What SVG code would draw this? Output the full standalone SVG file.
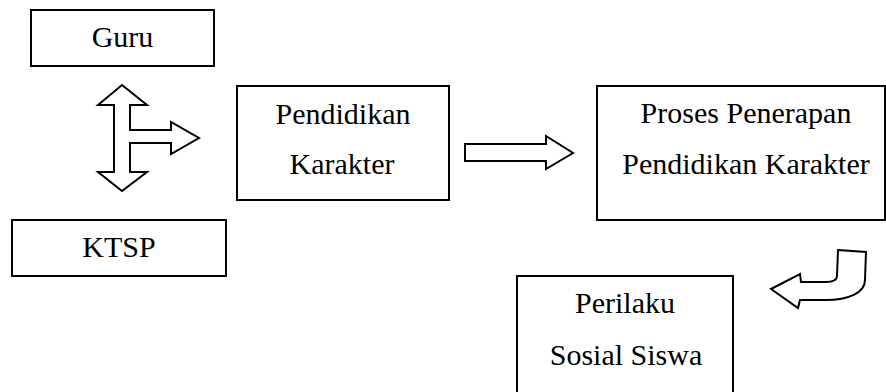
<svg xmlns="http://www.w3.org/2000/svg" width="886" height="392" viewBox="0 0 886 392">
<style>
.box{fill:#fff;stroke:#000;stroke-width:2}
.arr{fill:#fff;stroke:#000;stroke-width:2;stroke-linejoin:miter}
text{font-family:"Liberation Serif","Times New Roman",serif;font-size:30px;fill:#000;text-anchor:middle}
</style>
<rect width="886" height="392" fill="#fff"/>
<g id="guru"><rect class="box" x="31" y="10" width="183" height="56"/><text x="122.5" y="47">Guru</text></g>
<g id="ktsp"><rect class="box" x="12" y="220" width="214" height="56"/><text x="119" y="257">KTSP</text></g>
<g id="pendidikan"><rect class="box" x="237" y="86" width="212" height="114"/><text x="343" y="124">Pendidikan</text><text x="342" y="174">Karakter</text></g>
<g id="proses"><rect class="box" x="597" y="86" width="288" height="134"/><text x="746" y="123">Proses Penerapan</text><text x="746" y="174">Pendidikan Karakter</text></g>
<g id="perilaku"><rect class="box" x="517" y="276" width="216" height="130"/><text x="625" y="313">Perilaku</text><text x="626" y="365">Sosial Siswa</text></g>
<g id="connectors">
<polygon class="arr" points="122,85 147,105 130,105 130,130 171,130 171,122 199,138 171,154 171,143 130,143 130,172 147,172 122,191 98,172 114,172 114,105 98,105"/>
<polygon class="arr" points="465,144 546,144 546,136 573,153 546,169 546,161 465,161"/>
<path class="arr" d="M838,250 L866,252 L865,280 C865,293 848,300 826,300 L800,300 L798,308 L771,289 L800,274 L801,282 L826,282 C833,282 837,280 837,276 Z"/>
</g>
</svg>
